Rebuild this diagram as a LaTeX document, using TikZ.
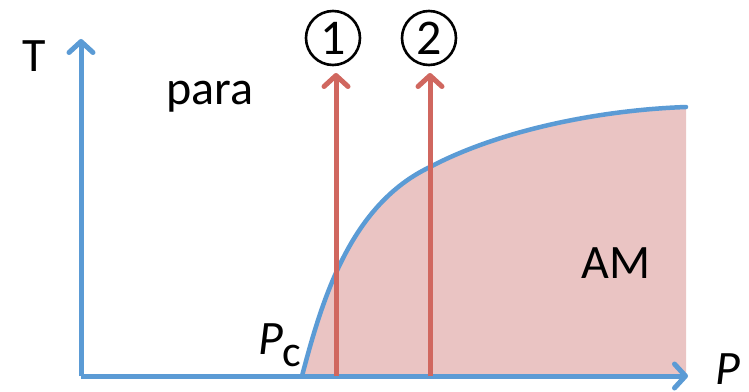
\documentclass[tikz,border=0pt]{standalone}
\usepackage{fontspec}
\setmainfont{Carlito}
\usetikzlibrary{arrows.meta}
\definecolor{axisblue}{HTML}{5B9BD5}
\definecolor{arrowred}{HTML}{D0675F}
\definecolor{amfill}{HTML}{EAC4C3}
\begin{document}
\begin{tikzpicture}[x=1pt,y=-1pt,
  axis/.style={draw=axisblue, line width=5pt, -{Straight Barb[length=11pt,width=24pt,round]}},
  redarrow/.style={draw=arrowred, line width=5pt, -{Straight Barb[length=11pt,width=24pt,round]}},
  lbl/.style={font=\fontsize{48}{52}\selectfont, inner sep=0pt},
  numcirc/.style={circle, draw=black, line width=2.6pt, minimum size=54pt, inner sep=0pt, font=\fontsize{50}{54}\selectfont}
]
\useasboundingbox (0,0) rectangle (749,391);
\def\boundary{(302,376) .. controls (322,300) and (350,205) .. (430,167) .. controls (500,130) and (600,110) .. (686,107)}
% phase region
\fill[amfill] \boundary -- (686,376) -- cycle;
% coordinates
\coordinate (o) at (81,376);
\coordinate (ty) at (81,39);
\coordinate (px) at (688,376);
\coordinate (a1s) at (336,376);
\coordinate (a1e) at (336,73);
\coordinate (a2s) at (430,376);
\coordinate (a2e) at (430,73);
% axes
\draw[axis] (o) -- (ty);
\draw[axis] (o) -- (px);
% boundary
\draw[axisblue, line width=4.5pt, line cap=round] \boundary;
% red arrows
\draw[redarrow] (a1s) -- (a1e);
\draw[redarrow] (a2s) -- (a2e);
% labels
\node[lbl] (T) at (34,56) {T};
\node[lbl] (para) at (210,97) {para};
\node[lbl] (AM) at (616,263) {AM};
\node[lbl, anchor=base] (Pc) at (280,354) {\textit{P}\textsubscript{\fontsize{44}{48}\selectfont c}};
\node[lbl] (P) at (728,369) {\textit{P}};
\node[numcirc] (n1) at (333,38) {1};
\node[numcirc] (n2) at (429,38) {2};
\end{tikzpicture}
\end{document}
